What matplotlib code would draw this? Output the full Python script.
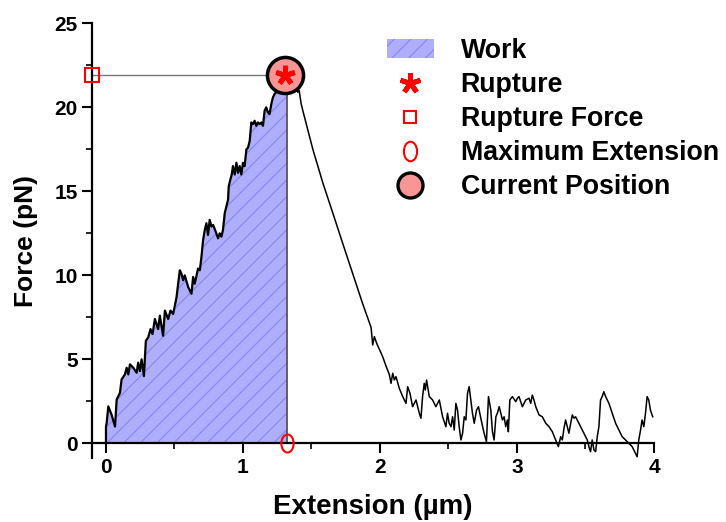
import numpy as np
import matplotlib
matplotlib.use("Agg")
import matplotlib.pyplot as plt
from matplotlib.patches import Patch
from matplotlib.lines import Line2D
from matplotlib.path import Path
from matplotlib.transforms import Affine2D

plt.rcParams['font.family'] = ['Liberation Sans', 'DejaVu Sans']
plt.rcParams['font.weight'] = 'bold'
plt.rcParams['axes.labelweight'] = 'bold'
plt.rcParams['hatch.linewidth'] = 0.8

# pulling curve up to the rupture point (extension in um, force in pN)
ext_rise = [0.0, 0.0, 0.005, 0.017, 0.041, 0.066, 0.078, 0.102, 0.114, 0.138,
            0.151, 0.163, 0.175, 0.199, 0.224, 0.235, 0.248, 0.260, 0.277, 0.291,
            0.308, 0.325, 0.340, 0.357, 0.381, 0.393, 0.417, 0.430, 0.454, 0.471,
            0.490, 0.503, 0.515, 0.539, 0.551, 0.563, 0.575, 0.600, 0.624, 0.636,
            0.648, 0.672, 0.685, 0.697, 0.709, 0.721, 0.733, 0.745, 0.757, 0.770,
            0.782, 0.801, 0.818, 0.830, 0.843, 0.854, 0.867, 0.879, 0.891, 0.896,
            0.908, 0.918, 0.927, 0.940, 0.952, 0.964, 0.976, 0.988, 1.000, 1.012,
            1.025, 1.037, 1.049, 1.061, 1.073, 1.085, 1.097, 1.109, 1.122, 1.134,
            1.146, 1.158, 1.170, 1.182, 1.194, 1.207, 1.219, 1.231, 1.243, 1.267,
            1.291, 1.320]
force_rise = [0.0, 1.0, 1.2, 2.2, 1.7, 1.0, 2.6, 3.0, 3.8, 4.1,
              4.5, 4.1, 4.7, 4.5, 4.2, 4.8, 4.3, 5.0, 4.0, 6.1,
              6.3, 6.8, 6.5, 7.4, 6.8, 7.6, 6.4, 7.9, 7.4, 7.9,
              7.7, 8.2, 8.7, 10.3, 10.1, 9.7, 10.0, 9.3, 8.9, 9.9,
              9.5, 10.4, 10.3, 11.1, 12.1, 12.7, 13.1, 12.4, 13.3, 12.9,
              13.0, 12.6, 12.2, 12.5, 12.3, 12.7, 13.7, 14.1, 14.5, 15.3,
              15.7, 16.0, 16.5, 16.0, 16.7, 16.1, 16.5, 16.0, 16.7, 16.5,
              17.5, 17.6, 18.0, 19.1, 19.0, 19.2, 18.9, 19.1, 19.0, 19.1,
              18.9, 19.8, 20.0, 19.7, 19.6, 20.2, 20.6, 20.8, 20.9, 20.9,
              20.9, 21.9]

# relaxation after rupture
ext_fall = [1.320, 1.370, 1.400, 1.410, 1.425, 1.437, 1.510, 1.583, 1.656, 1.728,
            1.801, 1.874, 1.935, 1.947, 1.959, 1.976, 2.020, 2.044, 2.068, 2.081,
            2.093, 2.105, 2.117, 2.141, 2.166, 2.190, 2.202, 2.219, 2.238, 2.263,
            2.287, 2.299, 2.311, 2.323, 2.331, 2.340, 2.360, 2.384, 2.408, 2.433,
            2.457, 2.481, 2.493, 2.505, 2.518, 2.530, 2.542, 2.554, 2.566, 2.578,
            2.591, 2.603, 2.615, 2.627, 2.639, 2.651, 2.663, 2.675, 2.688, 2.705,
            2.719, 2.736, 2.760, 2.777, 2.792, 2.809, 2.821, 2.833, 2.846, 2.857,
            2.870, 2.882, 2.894, 2.906, 2.918, 2.930, 2.937, 2.948, 2.966, 2.991,
            3.003, 3.015, 3.039, 3.064, 3.088, 3.100, 3.112, 3.124, 3.137, 3.161,
            3.185, 3.210, 3.234, 3.258, 3.282, 3.302, 3.319, 3.331, 3.343, 3.355,
            3.367, 3.379, 3.392, 3.404, 3.416, 3.428, 3.452, 3.476, 3.501, 3.513,
            3.525, 3.537, 3.549, 3.562, 3.574, 3.586, 3.598, 3.610, 3.622, 3.634,
            3.647, 3.659, 3.671, 3.695, 3.720, 3.744, 3.768, 3.792, 3.816, 3.841,
            3.865, 3.877, 3.889, 3.902, 3.913, 3.926, 3.938, 3.950, 3.962, 3.974,
            3.991]
force_fall = [21.9, 21.3, 20.9, 21.0, 20.2, 19.8, 17.5, 15.5, 13.7, 11.9,
              10.1, 8.3, 6.9, 5.85, 6.35, 5.95, 5.15, 4.6, 4.1, 3.57,
              4.17, 3.77, 3.97, 3.27, 2.78, 2.38, 3.37, 2.98, 2.18, 2.58,
              1.79, 1.49, 2.78, 3.57, 3.17, 3.77, 2.78, 2.58, 2.18, 2.58,
              1.58, 0.99, 1.79, 1.19, 0.99, 1.58, 0.79, 2.38, 1.98, 0.99,
              0.20, 0.60, 1.58, 1.39, 2.98, 3.37, 2.58, 1.79, 1.19, 1.98,
              2.18, 1.49, 0.60, 0.10, 2.78, 1.98, 0.69, 0.20, 1.58, 1.79,
              2.18, 1.79, 1.39, 1.58, 0.99, 1.39, 0.69, 2.58, 2.78, 2.48,
              2.68, 2.78, 2.18, 2.58, 2.68, 2.38, 2.87, 2.58, 2.18, 1.69,
              1.58, 1.19, 0.99, 0.69, 0.20, -0.20, 0.39, 0.20, 0.89, 1.39,
              0.99, 0.60, 1.19, 1.69, 1.49, 1.58, 1.19, 0.79, 0.39, 0.20,
              -0.20, -0.50, 0.20, -0.40, -0.50, 0.39, 0.99, 2.58, 2.78, 3.07,
              2.78, 2.58, 2.38, 1.79, 1.19, 0.79, 0.39, 0.20, 0.0, -0.20,
              -0.60, -0.80, 0.20, 0.79, 1.39, 0.99, 1.79, 2.78, 2.58, 1.98,
              1.58]

rupture_ext = 1.32
rupture_force = 21.9

fill_col = '#aeaefc'
hatch_col = '#8686f2'
marker_red = '#ff0000'
circle_col = '#f99595'

fig = plt.figure(figsize=(7.26, 5.22), dpi=100)
ax = fig.add_axes([0.1271, 0.1218, 0.7737, 0.8335])

# work area under the pulling curve
ax.fill_between(ext_rise, force_rise, 0, facecolor=fill_col, edgecolor=hatch_col,
                hatch='//', linewidth=0, zorder=1)
ax.plot([rupture_ext, rupture_ext], [0, rupture_force], color='#555555', lw=1.3, zorder=2)
ax.plot([-0.1, rupture_ext], [rupture_force, rupture_force], color='#777777', lw=1.0, zorder=2)

ax.plot(ext_rise, force_rise, color='black', lw=1.6, zorder=3)
ax.plot(ext_fall, force_fall, color='black', lw=1.1, zorder=3, clip_on=False)

ellipse = Affine2D().scale(0.68, 1.0).transform_path(Path.unit_circle())

ax.plot(-0.1, rupture_force, marker='s', ms=10, mfc='none', mec=marker_red, mew=1.5,
        clip_on=False, zorder=5)
ax.plot(rupture_ext, 0, marker=ellipse, ms=13, mfc='none', mec=marker_red, mew=1.5,
        clip_on=False, zorder=5)
ax.plot(rupture_ext - 0.01, rupture_force, marker='o', ms=26, mfc=circle_col, mec='black',
        mew=2.5, zorder=6)
ax.plot(rupture_ext - 0.01, rupture_force, marker=(5, 2, 0), ms=14, color=marker_red,
        mew=3.5, zorder=7)

ax.set_xlim(-0.1, 4.0)
ax.set_ylim(-0.9, 25)
ax.set_xticks([0, 1, 2, 3, 4])
ax.set_xticks([0.5, 1.5, 2.5, 3.5], minor=True)
ax.set_yticks([0, 5, 10, 15, 20, 25])
ax.set_yticks([2.5, 7.5, 12.5, 17.5, 22.5], minor=True)

for side in ['top', 'right']:
    ax.spines[side].set_visible(False)
ax.spines['bottom'].set_position(('data', 0))
ax.spines['left'].set_linewidth(1.6)
ax.spines['bottom'].set_linewidth(1.6)
ax.tick_params(which='major', direction='out', length=7, width=1.5, labelsize=15)
ax.tick_params(which='minor', direction='out', length=4, width=1.2)

ax.set_xlabel('Extension (µm)', fontsize=20, labelpad=12)
ax.set_ylabel('Force (pN)', fontsize=19, labelpad=12)

handles = [
    Patch(facecolor=fill_col, edgecolor=hatch_col, hatch='//', linewidth=0, label='Work'),
    Line2D([], [], ls='none', marker=(5, 2, 0), ms=15, color=marker_red, mew=3.5, label='Rupture'),
    Line2D([], [], ls='none', marker='s', ms=9, mfc='none', mec=marker_red, mew=1.5,
           label='Rupture Force'),
    Line2D([], [], ls='none', marker=ellipse, ms=14, mfc='none', mec=marker_red, mew=1.5,
           label='Maximum Extension'),
    Line2D([], [], ls='none', marker='o', ms=18, mfc=circle_col, mec='black', mew=2.4,
           label='Current Position'),
]
fig.legend(handles=handles, loc='upper left', bbox_to_anchor=(387 / 726, 1 - 38 / 522),
           frameon=False, fontsize=19.3, handlelength=1.75, handleheight=0.7,
           handletextpad=1.0, labelspacing=0.3, borderpad=0, borderaxespad=0)

fig.savefig('out.png', dpi=100)
